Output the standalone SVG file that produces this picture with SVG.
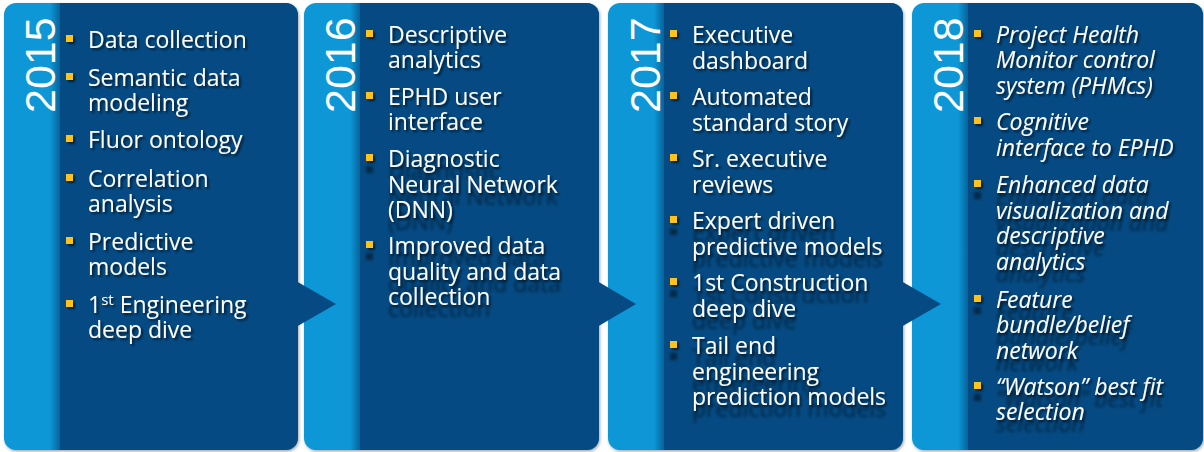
<svg xmlns="http://www.w3.org/2000/svg" width="1204" height="452" viewBox="0 0 1204 452">
<defs>
<style>
.light{fill:#0897D6}
.dark{fill:#054A82}
.year{font-family:"Liberation Sans",Arial,sans-serif;font-size:43px;fill:#fff}
.t{font-family:"Open Sans","Liberation Sans",sans-serif;font-size:23px;fill:#fff}
.it{font-style:italic}
.b{fill:#FDC21A}
</style>
<linearGradient id="edge" x1="0" y1="0" x2="1" y2="0">
<stop offset="0" stop-color="#00305F" stop-opacity="0"/>
<stop offset="1" stop-color="#00305F" stop-opacity="0.5"/>
</linearGradient>
<filter id="ps" x="-5%" y="-5%" width="110%" height="110%">
<feDropShadow dx="1" dy="1.5" stdDeviation="1.5" flood-color="#000" flood-opacity="0.35"/>
</filter>
<filter id="ts" x="-10%" y="-30%" width="125%" height="170%">
<feGaussianBlur in="SourceAlpha" stdDeviation="1.2"/>
<feOffset dx="1.5" dy="1.5" result="b"/>
<feFlood flood-color="#000" flood-opacity="0.6"/>
<feComposite in2="b" operator="in" result="s"/>
<feMerge><feMergeNode in="s"/><feMergeNode in="SourceGraphic"/></feMerge>
</filter>
<filter id="ts2" x="-10%" y="-30%" width="125%" height="220%">
<feGaussianBlur in="SourceAlpha" stdDeviation="1.2"/>
<feOffset dx="1.5" dy="1.5" result="b"/>
<feFlood flood-color="#000" flood-opacity="0.6"/>
<feComposite in2="b" operator="in" result="s"/>
<feGaussianBlur in="SourceAlpha" stdDeviation="1.8"/>
<feOffset dx="0" dy="12" result="b2"/>
<feFlood flood-color="#000" flood-opacity="0.45"/>
<feComposite in2="b2" operator="in" result="s2"/>
<feMerge><feMergeNode in="s2"/><feMergeNode in="s"/><feMergeNode in="SourceGraphic"/></feMerge>
</filter>
</defs>
<rect width="1204" height="452" fill="#fff"/>

<g id="p2015">
<rect class="light" x="4" y="3" width="294" height="447" rx="12" filter="url(#ps)"/>
<path class="dark" d="M60,3 H286 A12,12 0 0 1 298,15 V438 A12,12 0 0 1 286,450 H60 Z"/>
<rect x="50" y="3" width="10" height="447" fill="url(#edge)"/>
<text class="year" transform="translate(55,113) rotate(-90)">2015</text>
<g filter="url(#ts)"><rect class="b" x="66" y="35" width="7" height="7"/><text class="t" x="88" y="48">Data collection</text></g>
<g filter="url(#ts)"><rect class="b" x="66" y="73" width="7" height="7"/><text class="t" x="88" y="86">Semantic data<tspan x="88" dy="25">modeling</tspan></text></g>
<g filter="url(#ts)"><rect class="b" x="66" y="135" width="7" height="7"/><text class="t" x="88" y="148">Fluor ontology</text></g>
<g filter="url(#ts)"><rect class="b" x="66" y="174" width="7" height="7"/><text class="t" x="88" y="187">Correlation<tspan x="88" dy="25">analysis</tspan></text></g>
<g filter="url(#ts)"><rect class="b" x="66" y="237" width="7" height="7"/><text class="t" x="88" y="250">Predictive<tspan x="88" dy="25">models</tspan></text></g>
<g filter="url(#ts)"><rect class="b" x="66" y="300" width="7" height="7"/><text class="t" x="88" y="313">1<tspan font-size="15" dy="-8">st</tspan><tspan dy="8"> Engineering</tspan><tspan x="88" dy="25">deep dive</tspan></text></g>
</g>

<g id="p2016">
<rect class="light" x="304" y="3" width="295" height="447" rx="12" filter="url(#ps)"/>
<path class="dark" d="M360,3 H587 A12,12 0 0 1 599,15 V438 A12,12 0 0 1 587,450 H360 Z"/>
<rect x="350" y="3" width="10" height="447" fill="url(#edge)"/>
<text class="year" transform="translate(355,113) rotate(-90)">2016</text>
<g filter="url(#ts)"><rect class="b" x="366" y="30" width="7" height="7"/><text class="t" x="388" y="43">Descriptive<tspan x="388" dy="25">analytics</tspan></text></g>
<g filter="url(#ts)"><rect class="b" x="366" y="92" width="7" height="7"/><text class="t" x="388" y="105">EPHD user<tspan x="388" dy="25">interface</tspan></text></g>
<g filter="url(#ts2)"><rect class="b" x="366" y="154" width="7" height="7"/><text class="t" x="388" y="167">Diagnostic<tspan x="388" dy="25.5">Neural Network</tspan><tspan x="388" dy="25.5">(DNN)</tspan></text></g>
<g filter="url(#ts2)"><rect class="b" x="366" y="241" width="7" height="7"/><text class="t" x="388" y="254">Improved data<tspan x="388" dy="25.5">quality and data</tspan><tspan x="388" dy="25.5">collection</tspan></text></g>
</g>

<g id="p2017">
<rect class="light" x="608" y="3" width="295" height="447" rx="12" filter="url(#ps)"/>
<path class="dark" d="M664,3 H891 A12,12 0 0 1 903,15 V438 A12,12 0 0 1 891,450 H664 Z"/>
<rect x="654" y="3" width="10" height="447" fill="url(#edge)"/>
<text class="year" transform="translate(660,113) rotate(-90)">2017</text>
<g filter="url(#ts)"><rect class="b" x="670" y="30" width="7" height="7"/><text class="t" x="692" y="43">Executive<tspan x="692" dy="25.5">dashboard</tspan></text></g>
<g filter="url(#ts)"><rect class="b" x="670" y="92" width="7" height="7"/><text class="t" x="692" y="105">Automated<tspan x="692" dy="25.5">standard story</tspan></text></g>
<g filter="url(#ts)"><rect class="b" x="670" y="154" width="7" height="7"/><text class="t" x="692" y="167">Sr. executive<tspan x="692" dy="25.5">reviews</tspan></text></g>
<g filter="url(#ts2)"><rect class="b" x="670" y="216" width="7" height="7"/><text class="t" x="692" y="229">Expert driven<tspan x="692" dy="25.5">predictive models</tspan></text></g>
<g filter="url(#ts2)"><rect class="b" x="670" y="278" width="7" height="7"/><text class="t" x="692" y="291">1st Construction<tspan x="692" dy="25.5">deep dive</tspan></text></g>
<g filter="url(#ts2)"><rect class="b" x="670" y="341" width="7" height="7"/><text class="t" x="692" y="354">Tail end<tspan x="692" dy="25.5">engineering</tspan><tspan x="692" dy="25.5">prediction models</tspan></text></g>
</g>

<g id="p2018">
<rect class="light" x="912" y="3" width="291" height="447" rx="12" filter="url(#ps)"/>
<path class="dark" d="M968,3 H1191 A12,12 0 0 1 1203,15 V438 A12,12 0 0 1 1191,450 H968 Z"/>
<rect x="958" y="3" width="10" height="447" fill="url(#edge)"/>
<text class="year" transform="translate(963,113) rotate(-90)">2018</text>
<g filter="url(#ts)"><rect class="b" x="974" y="30" width="7" height="7"/><text class="t it" x="996" y="43">Project Health<tspan x="996" dy="25.3">Monitor control</tspan><tspan x="996" dy="25.3">system (PHMcs)</tspan></text></g>
<g filter="url(#ts)"><rect class="b" x="974" y="117" width="7" height="7"/><text class="t it" x="996" y="130">Cognitive<tspan x="996" dy="25.7">interface to EPHD</tspan></text></g>
<g filter="url(#ts2)"><rect class="b" x="974" y="180" width="7" height="7"/><text class="t it" x="996" y="193">Enhanced data<tspan x="996" dy="25.7">visualization and</tspan><tspan x="996" dy="25.7">descriptive</tspan><tspan x="996" dy="25.7">analytics</tspan></text></g>
<g filter="url(#ts2)"><rect class="b" x="974" y="295" width="7" height="7"/><text class="t it" x="996" y="308">Feature<tspan x="996" dy="25.3">bundle/belief</tspan><tspan x="996" dy="25.3">network</tspan></text></g>
<g filter="url(#ts2)"><rect class="b" x="974" y="382" width="7" height="7"/><text class="t it" x="996" y="395">“Watson” best fit<tspan x="996" dy="25.3">selection</tspan></text></g>
</g>

<g id="connectors" class="dark">
<polygon points="296,281 336,304 296,327"/>
<polygon points="597,281 636,304 597,327"/>
<polygon points="901,281 941,304 901,327"/>
</g>
</svg>
